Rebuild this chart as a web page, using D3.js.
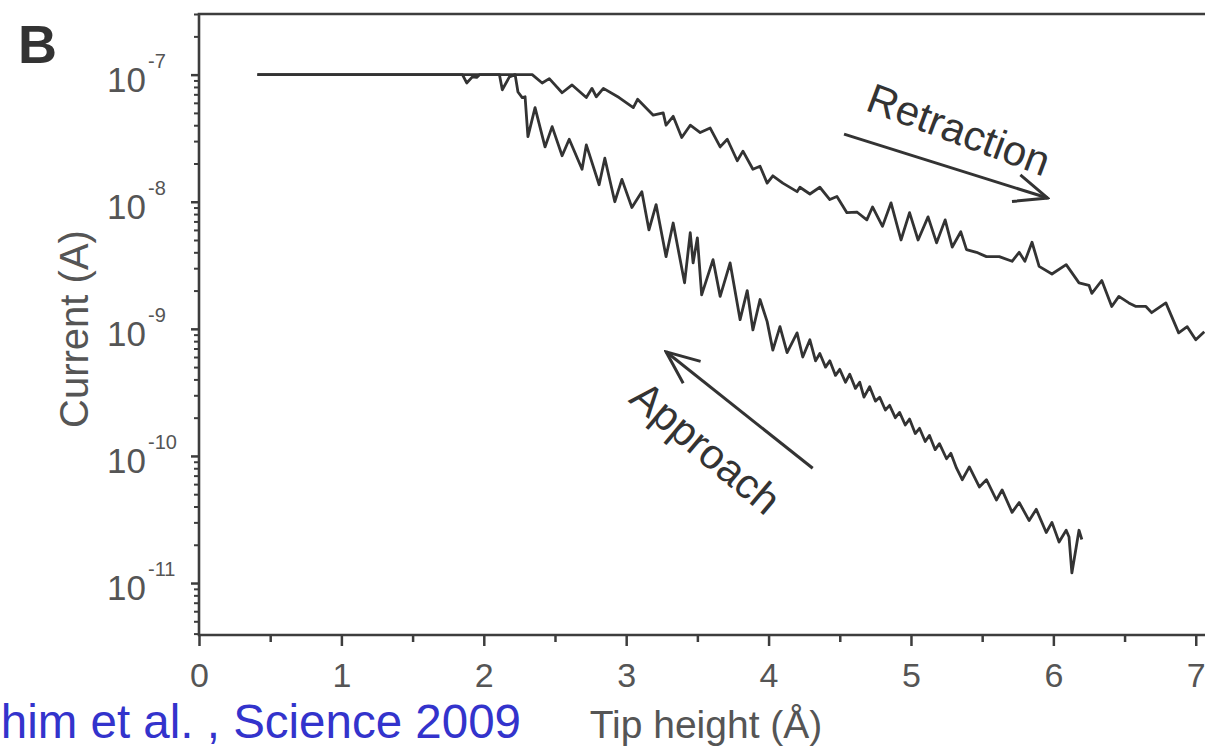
<!DOCTYPE html>
<html>
<head>
<meta charset="utf-8">
<script src="https://cdn.jsdelivr.net/npm/d3@7"></script>
<style>
  html, body { margin: 0; padding: 0; background: #fff; }
  svg { display: block; font-family: "Liberation Sans", Arial, Helvetica, sans-serif; }
</style>
</head>
<body>
<div id="chart"></div>
<script>
// Tip height (Å) / current (A)
const retractX = [0.41, 2.34, 2.41, 2.46, 2.55, 2.62, 2.72, 2.76, 2.79, 2.84, 2.95, 3.05, 3.08, 3.19, 3.26, 3.28,
    3.33, 3.39, 3.45, 3.52, 3.59, 3.66, 3.71, 3.78, 3.82, 3.89, 3.94, 3.99, 4.03, 4.10, 4.20, 4.22, 4.29, 4.36, 4.43,
    4.48, 4.55, 4.62, 4.69, 4.73, 4.80, 4.86, 4.93, 4.99, 5.05, 5.12, 5.18, 5.24, 5.29, 5.35, 5.39, 5.46, 5.53, 5.62,
    5.71, 5.76, 5.80, 5.85, 5.90, 5.99, 6.09, 6.18, 6.25, 6.27, 6.34, 6.41, 6.46, 6.53, 6.58, 6.65, 6.69, 6.79,
    6.88, 6.94, 7.00, 7.06];
const retractI = [1.0e-7, 1.0e-7, 8.6e-8, 9.3e-8, 7.2e-8, 8.3e-8, 6.6e-8, 7.8e-8, 6.7e-8, 7.8e-8, 6.6e-8, 5.5e-8,
    6.4e-8, 4.8e-8, 5.0e-8, 4.0e-8, 4.7e-8, 3.2e-8, 4.0e-8, 3.5e-8, 3.8e-8, 2.7e-8, 3.1e-8, 2.1e-8, 2.5e-8, 1.8e-8,
    1.9e-8, 1.4e-8, 1.6e-8, 1.4e-8, 1.2e-8, 1.3e-8, 1.15e-8, 1.3e-8, 1.04e-8, 1.1e-8, 8.2e-9, 8.3e-9, 7.2e-9, 9.1e-9,
    6.4e-9, 9.8e-9, 5.0e-9, 8.2e-9, 5.0e-9, 7.6e-9, 4.75e-9, 7.2e-9, 4.4e-9, 5.8e-9, 4.2e-9, 4.0e-9, 3.7e-9, 3.7e-9,
    3.4e-9, 4.0e-9, 3.4e-9, 4.8e-9, 3.1e-9, 2.7e-9, 3.2e-9, 2.3e-9, 2.2e-9, 1.9e-9, 2.4e-9, 1.5e-9, 1.8e-9, 1.6e-9,
    1.5e-9, 1.5e-9, 1.34e-9, 1.6e-9, 9.3e-10, 1.04e-9, 8.2e-10, 9.5e-10];

const approachX = [0.41, 1.85, 1.88, 1.92, 1.95, 1.97, 2.11, 2.13, 2.18, 2.22, 2.24, 2.27, 2.29, 2.31, 2.36, 2.43,
    2.48, 2.55, 2.60, 2.69, 2.72, 2.81, 2.85, 2.92, 2.97, 3.04, 3.11, 3.16, 3.21, 3.28, 3.33, 3.41, 3.45, 3.47, 3.50,
    3.53, 3.61, 3.66, 3.73, 3.80, 3.85, 3.89, 3.94, 3.99, 4.03, 4.08, 4.13, 4.20, 4.24, 4.29, 4.33, 4.36, 4.40, 4.43,
    4.47, 4.50, 4.54, 4.57, 4.61, 4.64, 4.67, 4.71, 4.75, 4.78, 4.82, 4.85, 4.89, 4.92, 4.96, 4.99, 5.03, 5.06, 5.10,
    5.13, 5.17, 5.20, 5.25, 5.28, 5.32, 5.36, 5.41, 5.48, 5.53, 5.60, 5.64, 5.71, 5.76, 5.83, 5.88, 5.95, 5.99, 6.04,
    6.09, 6.11, 6.13, 6.16, 6.18, 6.20];
const approachI = [1.0e-7, 1.0e-7, 8.6e-8, 9.6e-8, 9.5e-8, 1.0e-7, 1.0e-7, 7.6e-8, 9.6e-8, 1.0e-7, 7.3e-8, 6.6e-8,
    6.7e-8, 3.25e-8, 5.5e-8, 2.7e-8, 3.9e-8, 2.3e-8, 3.1e-8, 1.8e-8, 2.8e-8, 1.36e-8, 2.2e-8, 1.0e-8, 1.5e-8, 9.0e-9,
    1.2e-8, 6.0e-9, 9.5e-9, 3.7e-9, 6.8e-9, 2.3e-9, 5.7e-9, 3.3e-9, 5.2e-9, 1.85e-9, 3.5e-9, 1.8e-9, 3.3e-9, 1.18e-9,
    2.0e-9, 9.8e-10, 1.7e-9, 1.14e-9, 6.8e-10, 1.04e-9, 6.5e-10, 9.3e-10, 6.0e-10, 8.2e-10, 5.6e-10, 6.4e-10, 5.0e-10,
    5.6e-10, 4.3e-10, 4.8e-10, 3.8e-10, 4.4e-10, 3.4e-10, 3.8e-10, 2.9e-10, 3.5e-10, 2.7e-10, 2.9e-10, 2.3e-10,
    2.5e-10, 2.0e-10, 2.2e-10, 1.75e-10, 1.95e-10, 1.5e-10, 1.65e-10, 1.3e-10, 1.45e-10, 1.12e-10, 1.25e-10, 9.5e-11,
    1.05e-10, 8.0e-11, 6.5e-11, 8.2e-11, 5.7e-11, 6.5e-11, 4.5e-11, 5.4e-11, 3.6e-11, 4.3e-11, 3.1e-11, 3.8e-11,
    2.5e-11, 3.0e-11, 2.1e-11, 2.6e-11, 2.3e-11, 1.2e-11, 1.9e-11, 2.6e-11, 2.2e-11];

// Axis ticks
const xTicks = [0, 1, 2, 3, 4, 5, 6, 7];
const xMinorTicks = [0.5, 1.5, 2.5, 3.5, 4.5, 5.5, 6.5];
const yTickExponents = [-7, -8, -9, -10, -11];

// Annotation arrows (tail, head) and labels, in data units
const retractArrow = [[4.53, 3.4e-8], [5.96, 1.07e-8]];
const approachArrow = [[4.31, 8.0e-11], [3.28, 6.6e-10]];
const labels = [
    { text: "Retraction", x: 4.67, y: 5.3e-8, angle: 20.5 },
    { text: "Approach", x: 3.01, y: 2.7e-10, angle: 40 }
];

const width = 1205, height = 753;
const plot = { left: 199, right: 1210, top: 14, bottom: 635 };
const ink = "#333", axisInk = "#3d3d3d", tickText = "#555";

const svg = d3.select("#chart").append("svg")
    .attr("width", width)
    .attr("height", height);

const x = d3.scaleLinear().domain([0, 7.1]).range([plot.left, plot.right]);
const y = d3.scaleLog().domain([3.9e-12, 3.0e-7]).range([plot.bottom, plot.top]);

// x axis: major + minor ticks
const xAxis = svg.append("g")
    .attr("transform", `translate(0,${plot.bottom})`)
    .call(d3.axisBottom(x).tickValues(xTicks).tickSize(11).tickSizeOuter(0).tickFormat(d3.format("d")));
xAxis.select(".domain").remove();
xAxis.selectAll("line").attr("stroke", axisInk).attr("stroke-width", 2.5);
xAxis.selectAll("text")
    .attr("y", 52).attr("dy", null)
    .attr("fill", tickText)
    .style("font-size", "34px");

const xMinor = svg.append("g")
    .attr("transform", `translate(0,${plot.bottom})`)
    .call(d3.axisBottom(x).tickValues(xMinorTicks).tickSize(7).tickSizeOuter(0).tickFormat(""));
xMinor.select(".domain").remove();
xMinor.selectAll("line").attr("stroke", axisInk).attr("stroke-width", 2.5);

// y axis: decades + 2..9 minor ticks
const yMajor = yTickExponents.map(e => Math.pow(10, e));
const yMinorTicks = [];
for (let e = -12; e <= -7; e++) {
    for (let m = 2; m <= 9; m++) {
        const v = m * Math.pow(10, e);
        if (v >= y.domain()[0] && v <= y.domain()[1]) yMinorTicks.push(v);
    }
}

const yAxis = svg.append("g")
    .attr("transform", `translate(${plot.left},0)`)
    .call(d3.axisLeft(y).tickValues(yMajor).tickSize(8).tickSizeOuter(0).tickFormat(""));
yAxis.select(".domain").remove();
yAxis.selectAll("line").attr("stroke", axisInk).attr("stroke-width", 2.5);

const yMinor = svg.append("g")
    .attr("transform", `translate(${plot.left},0)`)
    .call(d3.axisLeft(y).tickValues(yMinorTicks).tickSize(5).tickSizeOuter(0).tickFormat(""));
yMinor.select(".domain").remove();
yMinor.selectAll("line").attr("stroke", axisInk).attr("stroke-width", 2);

// 10^n labels
const yLabels = svg.append("g").selectAll("g")
    .data(yTickExponents)
    .join("g")
    .attr("transform", d => `translate(0,${y(Math.pow(10, d))})`);
yLabels.append("text")
    .attr("x", 146).attr("y", 17)
    .attr("text-anchor", "end")
    .attr("fill", tickText)
    .style("font-size", "35px")
    .text("10");
yLabels.append("text")
    .attr("x", 148).attr("y", -7)
    .attr("fill", tickText)
    .style("font-size", "20px")
    .text(d => d);

// frame (right edge falls outside the picture)
svg.append("path")
    .attr("d", `M${plot.right},${plot.top}H${plot.left}V${plot.bottom}H${plot.right}`)
    .attr("fill", "none")
    .attr("stroke", axisInk)
    .attr("stroke-width", 2.6);

// curves
const line = d3.line().x(d => x(d[0])).y(d => y(d[1]));
const series = [
    d3.zip(retractX, retractI),
    d3.zip(approachX, approachI)
];
svg.append("g").selectAll("path")
    .data(series)
    .join("path")
    .attr("d", line)
    .attr("fill", "none")
    .attr("stroke", ink)
    .attr("stroke-width", 2.8)
    .attr("stroke-linejoin", "round");

// arrows
svg.append("defs").append("marker")
    .attr("id", "chev")
    .attr("markerUnits", "userSpaceOnUse")
    .attr("viewBox", "-36 -17 38 34")
    .attr("markerWidth", 38).attr("markerHeight", 34)
    .attr("refX", 0).attr("refY", 0)
    .attr("orient", "auto")
    .append("path")
    .attr("d", "M-33,-14L0,0L-33,14")
    .attr("fill", "none")
    .attr("stroke", ink)
    .attr("stroke-width", 3)
    .attr("stroke-linejoin", "miter");

svg.append("g").selectAll("path")
    .data([retractArrow, approachArrow])
    .join("path")
    .attr("d", line)
    .attr("fill", "none")
    .attr("stroke", ink)
    .attr("stroke-width", 3)
    .attr("marker-end", "url(#chev)");

svg.append("g").selectAll("text")
    .data(labels)
    .join("text")
    .attr("transform", d => `translate(${x(d.x)},${y(d.y)}) rotate(${d.angle})`)
    .attr("fill", ink)
    .style("font-size", "42px")
    .text(d => d.text);

// axis titles
svg.append("text")
    .attr("transform", "translate(88,329) rotate(-90)")
    .attr("text-anchor", "middle")
    .attr("fill", tickText)
    .style("font-size", "40px")
    .text("Current (A)");

svg.append("text")
    .attr("x", 706).attr("y", 738)
    .attr("text-anchor", "middle")
    .attr("fill", tickText)
    .style("font-size", "39px")
    .text("Tip height (Å)");

// panel letter
svg.append("text")
    .attr("x", 18).attr("y", 63)
    .attr("fill", "#333")
    .style("font-size", "54px")
    .style("font-weight", "bold")
    .text("B");

// citation
svg.append("text")
    .attr("x", 521).attr("y", 738)
    .attr("text-anchor", "end")
    .attr("fill", "#3333cc")
    .style("font-size", "47.5px")
    .text("him et al. , Science 2009");
</script>
</body>
</html>
